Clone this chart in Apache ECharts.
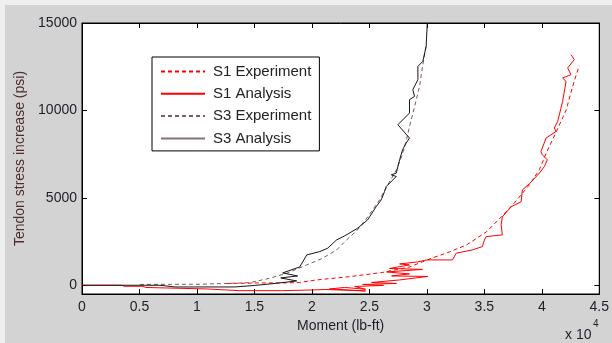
<!DOCTYPE html>
<html>
<head>
<meta charset="utf-8">
<script src="https://cdn.jsdelivr.net/npm/echarts@6/dist/echarts.min.js"></script>
<style>
html,body{margin:0;padding:0;background:#fff;}
#chart{width:612px;height:343px;background:#d3d3d3;box-shadow:inset 5px 5px 0 0 #efefef;}
</style>
</head>
<body>
<div id="chart"></div>
<script>
// ---- data (moment in lb-ft, stress increase in psi) ----
const seriesNames = ['S1 Experiment', 'S1 Analysis', 'S3 Experiment', 'S3 Analysis'];

const s1ExpMoment = [12600,15460,17460,18940,20410,23280,26150,28490,30490,31970,33450,35180,36570,37620,38920,39790,40400,41260,42130,42650,43000,43260];
const s1ExpStress = [103,132,132,160,304,493,733,1048,1563,1907,2308,3053,3969,4713,5744,6606,7577,8780,10040,11299,12044,12559];

const s1AnaMoment = [0,3475,3650,5210,5560,7300,10860,13730,17460,20070,21200,24670,21540,22850,24670,23720,26230,24410,27360,25190,27630,30080,26930,28490,26500,29620,26760,28490,27630,29190,29970,32230,32550,33970,34830,35010,35160,36570,36460,36570,37320,38200,38310,38920,39790,40230,40480,40050,39930,40370,41240,41090,41380,41810,42110,41810,42540,42250,42830,42540];
const s1AnaStress = [0,0,-57,-57,-126,-155,-212,-309,-309,-269,-241,-326,-212,-126,-229,-69,-11,46,103,160,304,504,533,647,762,905,962,1163,1220,1334,1449,1449,1833,2022,2211,2594,2783,2881,3453,3912,4484,4771,5458,5802,6414,6792,7176,7462,7651,8419,8797,8992,9369,10515,11660,11855,12044,12428,12903,13189];

const s3ExpMoment = [5040,10250,13120,14590,16330,17810,19550,20940,22150,23020,23890,24670,25280,25890,26500,27360,27800,28230,28490,28930,29360,29620,29940];
const s3ExpStress = [46,57,115,149,401,687,1163,1546,2022,2594,3110,3739,4312,4885,5630,6606,7348,8321,9066,10211,11357,12502,13705];

const s3AnaMoment = [0,6780,8080,13290,15030,16940,18680,17290,18760,17460,18940,19200,19550,20670,21370,22150,22850,23980,24850,25600,26030,26320,26470,27340,26910,27340,27630,27890,28200,28490,27480,28060,28490,28490,28930,28780,29220,29220,29650,29940,30030,30060];
const s3AnaStress = [0,0,-97,-97,-11,115,246,418,533,704,1048,1334,1735,1924,2119,2594,2823,3264,3739,4501,4885,5361,5647,6220,6317,6414,7176,7749,8132,8419,9180,9564,9850,10612,10801,11185,11758,12519,12806,13665,14907,15000];

const xTicks = [0,5000,10000,15000,20000,25000,30000,35000,40000,45000];
const xTickLabels = ['0','0.5','1','1.5','2','2.5','3','3.5','4','4.5'];
const yTicks = [0,5000,10000,15000];
const yTickLabels = ['0','5000','10000','15000'];

function pairs(xs, ys){ return xs.map((x,i)=>[x, ys[i]]); }

const FONT = '"Liberation Sans", Arial, sans-serif';
const chart = echarts.init(document.getElementById('chart'), null, {renderer:'canvas'});

const tickStyle = {show:true, inside:true, length:5, lineStyle:{color:'#000', width:1}};

chart.setOption({
  backgroundColor: 'transparent',
  animation: false,
  grid: {left:82, right:12, top:23, bottom:49, show:true, backgroundColor:'#fff', borderColor:'#000', borderWidth:1},
  legend: {
    orient:'vertical', left:152, top:57,
    backgroundColor:'#fff', borderColor:'#000', borderWidth:1,
    padding:[7,8,5,8], itemWidth:44, itemHeight:14, itemGap:7.3,
    itemStyle:{opacity:0, borderWidth:0},
    textStyle:{fontFamily:FONT, fontSize:15, color:'#222', padding:[0,0,0,3]},
    data:[
      {name:seriesNames[0]},
      {name:seriesNames[1]},
      {name:seriesNames[2]},
      {name:seriesNames[3], lineStyle:{color:'#857272'}}
    ]
  },
  xAxis: [
    {type:'value', min:0, max:45000, position:'bottom',
     axisLine:{show:true, onZero:false, lineStyle:{color:'#000', width:1}},
     axisTick:Object.assign({customValues:xTicks}, tickStyle),
     axisLabel:{customValues:xTicks, margin:6, fontFamily:FONT, fontSize:14, color:'#1e1e2a',
       formatter:(v)=>{const i=xTicks.indexOf(v); return i>=0?xTickLabels[i]:'';}},
     splitLine:{show:false},
     name:'Moment (lb-ft)', nameLocation:'middle', nameGap:25,
     nameTextStyle:{fontFamily:FONT, fontSize:14, color:'#1e1e2a'}},
    {type:'value', min:0, max:45000, position:'top',
     axisLine:{show:true, onZero:false, lineStyle:{color:'#000', width:1}},
     axisTick:Object.assign({customValues:xTicks}, tickStyle),
     axisLabel:{show:false}, splitLine:{show:false}}
  ],
  yAxis: [
    {type:'value', min:-500, max:15000, position:'left',
     axisLine:{show:true, onZero:false, lineStyle:{color:'#000', width:1}},
     axisTick:Object.assign({customValues:yTicks}, tickStyle),
     axisLabel:{customValues:yTicks, margin:5, fontFamily:FONT, fontSize:14, color:'#1e1e2a',
       formatter:(v)=>{const i=yTicks.indexOf(v); return i>=0?yTickLabels[i]:'';}},
     splitLine:{show:false},
     name:'Tendon stress increase (psi)', nameLocation:'middle', nameGap:50,
     nameTextStyle:{fontFamily:FONT, fontSize:14, color:'#4d2e2e'}},
    {type:'value', min:-500, max:15000, position:'right',
     axisLine:{show:true, onZero:false, lineStyle:{color:'#000', width:1}},
     axisTick:Object.assign({customValues:yTicks}, tickStyle),
     axisLabel:{show:false}, splitLine:{show:false}}
  ],
  graphic: [
    {type:'text', left:565, top:328, style:{text:'x 10', font:'14px '+FONT, fill:'#1e1e2a'}},
    {type:'text', left:593, top:319, style:{text:'4', font:'10px '+FONT, fill:'#1e1e2a'}}
  ],
  series: [
    {name:seriesNames[0], type:'line', symbol:'none', data:pairs(s1ExpMoment, s1ExpStress),
     lineStyle:{color:'#ff0000', width:1, type:[4,3]}, itemStyle:{color:'#ff0000'}},
    {name:seriesNames[1], type:'line', symbol:'none', data:pairs(s1AnaMoment, s1AnaStress),
     lineStyle:{color:'#ff0000', width:1}, itemStyle:{color:'#ff0000'}},
    {name:seriesNames[2], type:'line', symbol:'none', data:pairs(s3ExpMoment, s3ExpStress),
     lineStyle:{color:'#7a5c5c', width:1, type:[4,3]}, itemStyle:{color:'#7a5c5c'}},
    {name:seriesNames[3], type:'line', symbol:'none', data:pairs(s3AnaMoment, s3AnaStress),
     lineStyle:{color:'#1a1414', width:1}, itemStyle:{color:'#1a1414'}}
  ]
});
</script>
</body>
</html>
